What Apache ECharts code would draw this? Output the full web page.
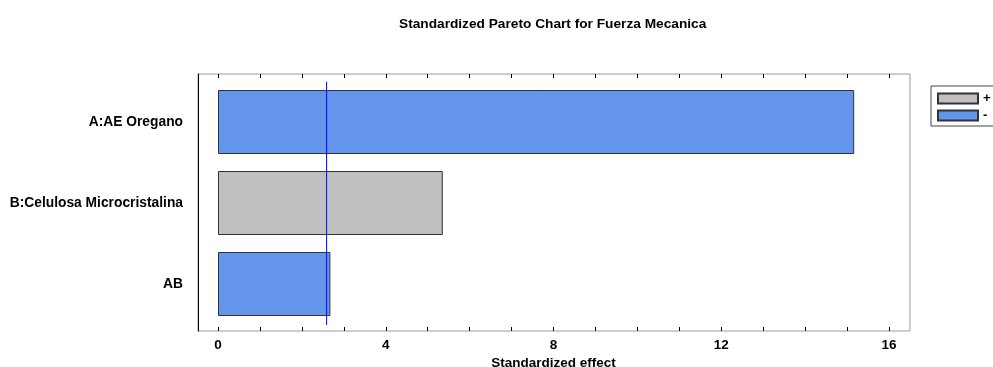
<!DOCTYPE html>
<html><head><meta charset="utf-8">
<script src="https://cdn.jsdelivr.net/npm/echarts@6/dist/echarts.min.js"></script>
<style>html,body{margin:0;padding:0;background:#fff}#c{width:993px;height:367px}</style>
</head><body><div id="c"></div>
<script>
// ---- data ----
const titleText = 'Standardized Pareto Chart for Fuerza Mecanica';
const xAxisTitle = 'Standardized effect';
const categories = ['A:AE Oregano', 'B:Celulosa Microcristalina', 'AB'];
const effects = [15.17, 5.36, 2.68];
const signs = ['-', '+', '-'];
const criticalValue = 2.59;
const xTickLabels = [0, 4, 8, 12, 16];
const legendNames = ['+', '-'];

const posData = effects.map((v, i) => signs[i] === '+' ? v : null);
const negData = effects.map((v, i) => signs[i] === '-' ? v : null);

const FONT = '"Liberation Sans", Arial, sans-serif';
const chart = echarts.init(document.getElementById('c'), null, {renderer: 'canvas'});
chart.setOption({
  animation: false,
  backgroundColor: '#fff',
  title: {
    text: titleText, left: 399, top: 17, padding: 0,
    textStyle: {fontFamily: FONT, fontWeight: 'bold', fontSize: 13.7, color: '#000'}
  },
  legend: {
    data: legendNames, orient: 'vertical', left: 931, top: 86,
    icon: 'rect', itemWidth: 40, itemHeight: 10, itemGap: 4,
    padding: [6, 8, 4, 6], borderColor: '#444', borderWidth: 1,
    textStyle: {fontFamily: FONT, fontWeight: 'bold', fontSize: 13, color: '#000', lineHeight: 13}
  },
  grid: [
    {left: 198, top: 74, width: 712, height: 257, show: true, borderColor: '#999', borderWidth: 1, backgroundColor: 'transparent', outerBoundsMode: 'none', containLabel: false},
    {left: 218, top: 74, width: 671, height: 257, outerBoundsMode: 'none', containLabel: false},
    {left: 218, top: 81.5, width: 671, height: 243, outerBoundsMode: 'none', containLabel: false}
  ],
  xAxis: [
    {gridIndex: 0, type: 'value', min: 0, max: 1, show: false},
    {gridIndex: 1, type: 'value', min: 0, max: 16, interval: 1, position: 'bottom',
     name: xAxisTitle, nameLocation: 'middle', nameGap: 25, nameMoveOverlap: false,
     nameTextStyle: {fontFamily: FONT, fontWeight: 'bold', fontSize: 13.5, color: '#000'},
     axisLine: {show: false, onZero: false}, splitLine: {show: false},
     axisTick: {show: true, inside: true, length: 4, lineStyle: {color: '#000'}},
     axisLabel: {margin: 7, fontFamily: FONT, fontWeight: 'bold', fontSize: 13.5, color: '#000',
       formatter: v => xTickLabels.includes(v) ? String(v) : ''}},
    {gridIndex: 1, type: 'value', min: 0, max: 16, interval: 1, position: 'top',
     axisLine: {show: false, onZero: false}, splitLine: {show: false}, axisLabel: {show: false},
     axisTick: {show: true, inside: true, length: 4, lineStyle: {color: '#000'}}},
    {gridIndex: 2, type: 'value', min: 0, max: 16, show: false}
  ],
  yAxis: [
    {gridIndex: 0, type: 'value', min: 0, max: 1, position: 'left',
     axisLine: {show: true, onZero: false, lineStyle: {color: '#000'}}, axisTick: {show: false},
     axisLabel: {show: false}, splitLine: {show: false}},
    {gridIndex: 1, type: 'value', min: 0, max: 1, show: false},
    {gridIndex: 2, type: 'category', data: categories, inverse: true,
     axisLine: {show: false}, axisTick: {show: false}, splitLine: {show: false},
     axisLabel: {margin: 35, fontFamily: FONT, fontWeight: 'bold', fontSize: 13.8, color: '#000'}}
  ],
  series: [
    {name: legendNames[0], type: 'bar', xAxisIndex: 3, yAxisIndex: 2, data: posData,
     barWidth: 64, barGap: '-100%',
     itemStyle: {color: '#C0C0C0', borderColor: '#333', borderWidth: 1}},
    {name: legendNames[1], type: 'bar', xAxisIndex: 3, yAxisIndex: 2, data: negData,
     barWidth: 64, barGap: '-100%',
     itemStyle: {color: '#6495ED', borderColor: '#333', borderWidth: 1}},
    {type: 'line', xAxisIndex: 1, yAxisIndex: 1, symbol: 'none', silent: true,
     data: [[criticalValue, 0.023], [criticalValue, 0.97]],
     lineStyle: {color: '#0000FF', width: 1}}
  ]
});
</script></body></html>
